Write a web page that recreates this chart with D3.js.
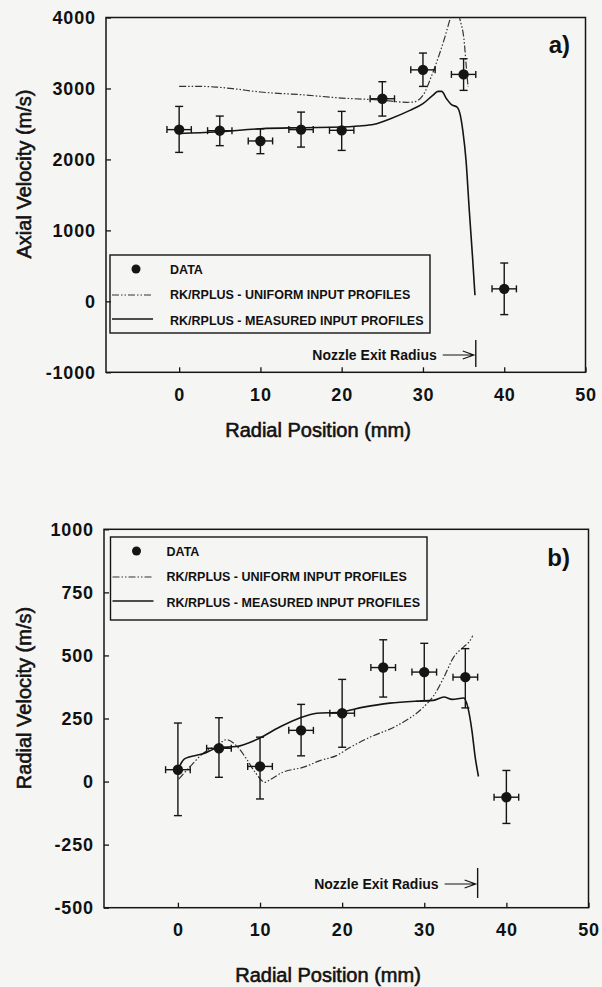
<!DOCTYPE html>
<html>
<head>
<meta charset="utf-8">
<script src="https://cdn.jsdelivr.net/npm/d3@7"></script>
<style>
body { margin: 0; background: #f5f5f4; }
text { font-family: "Liberation Sans", Arial, sans-serif; fill: #111; }
</style>
</head>
<body>
<div id="chart"></div>
<script>
// measured points (mm) and half width of the x error bars
const radialPos = [0, 5, 10, 15, 20, 25, 30, 35, 40];
const posErr = 1.5;

// a) axial velocity, m/s
const axialVel = [2420, 2405, 2260, 2420, 2410, 2855, 3262, 3198, 176];
const axialHi = [2747, 2611, 2430, 2667, 2677, 3095, 3499, 3419, 540];
const axialLo = [2099, 2194, 2081, 2174, 2127, 2611, 3029, 2973, -187];

const uniformAxialX = [0, 2, 4.5, 6.6, 10, 15, 20, 25, 28, 28.8, 30, 31, 31.9, 32.7, 33.4, 33.9, 34.2, 34.5, 35.1, 35.3, 35.55];
const uniformAxialV = [3030, 3030, 3020, 2997, 2950, 2912, 2865, 2835, 2805, 2808, 2902, 3160, 3442, 3724, 4000, 4150, 4160, 4000, 3631, 3349, 3020];

const measuredAxialX = [0, 4.5, 10, 15, 20, 22, 24, 26, 28.4, 30, 31.2, 31.85, 32.3, 32.9, 33.5, 34.2, 34.6, 34.9, 35.3, 35.7, 36.1, 36.4];
const measuredAxialV = [2365, 2386, 2433, 2447, 2456, 2470, 2495, 2574, 2691, 2785, 2902, 2959, 2959, 2856, 2771, 2738, 2621, 2409, 1987, 1282, 624, 85];

// b) radial velocity, m/s
const radialVel = [47, 132, 60, 203, 271, 452, 434, 414, -62];
const radialHi = [232, 253, 176, 306, 405, 562, 548, 527, 44];
const radialLo = [-135, 17, -69, 102, 136, 335, 320, 292, -166];

const uniformRadialX = [0.1, 1.5, 3, 4.9, 5.9, 7.1, 8.35, 9.4, 10.6, 11.2, 12.8, 15.3, 17.3, 19.3, 21, 23.4, 26.7, 29.9, 31.1, 32.4, 33.6, 34.8, 35.6, 35.9];
const uniformRadialV = [10, 60, 110, 147, 166, 143, 90, 37, -3, 7, 37, 57, 83, 103, 136, 176, 222, 295, 338, 414, 494, 534, 560, 578];

const measuredRadialX = [0, 0.8, 3.05, 4.9, 7.1, 9.8, 12.4, 14.9, 16.9, 19.7, 22.6, 25.8, 29.1, 31.1, 32.4, 33.4, 34.8, 35.3, 35.8, 36.2, 36.6];
const measuredRadialV = [47, 90, 110, 134, 139, 170, 216, 253, 271, 275, 295, 311, 319, 322, 335, 326, 331, 295, 203, 97, 20];

const xTicks = [0, 10, 20, 30, 40, 50];
const axialTicks = [-1000, 0, 1000, 2000, 3000, 4000];
const radialTicks = [-500, -250, 0, 250, 500, 750, 1000];
const nozzleRadius = 36.5;

const legendLabels = ["DATA", "RK/RPLUS - UNIFORM INPUT PROFILES", "RK/RPLUS - MEASURED INPUT PROFILES"];

const ink = "#151515";
const dashStyle = "7,2,1.5,2,1.5,2";

const svg = d3.select("#chart").append("svg")
    .attr("width", 602)
    .attr("height", 987);

svg.append("rect").attr("width", 602).attr("height", 987).attr("fill", "#f5f5f4");

function drawPanel(p) {
    const x = d3.scaleLinear().domain([-9, 50]).range([p.left, p.right]);
    const y = d3.scaleLinear().domain(p.yDomain).range([p.bottom, p.top]);
    const g = svg.append("g");

    g.append("clipPath").attr("id", p.id + "-clip")
        .append("rect")
        .attr("x", p.left).attr("y", p.top)
        .attr("width", p.right - p.left).attr("height", p.bottom - p.top);

    // axes, ticks pointing inward
    const xAxis = g.append("g")
        .attr("transform", `translate(0,${p.bottom})`)
        .call(d3.axisBottom(x).tickValues(xTicks).tickSize(-5).tickPadding(16).tickFormat(d => String(d)));
    const yAxis = g.append("g")
        .attr("transform", `translate(${p.left},0)`)
        .call(d3.axisLeft(y).tickValues(p.yTicks).tickSize(-5).tickPadding(11).tickFormat(d => String(d)));
    [xAxis, yAxis].forEach(a => {
        a.select(".domain").remove();
        a.selectAll("line").attr("stroke", ink).attr("stroke-width", 1.3);
        a.selectAll("text")
            .attr("fill", ink)
            .style("font-size", "18px")
            .style("font-weight", "bold")
            .style("letter-spacing", "0.8px");
    });
    // letter spacing adds a trailing gap; pull the y labels back onto the axis
    yAxis.selectAll("text").attr("dx", "0.8");

    g.append("rect")
        .attr("x", p.left).attr("y", p.top)
        .attr("width", p.right - p.left).attr("height", p.bottom - p.top)
        .attr("fill", "none").attr("stroke", ink).attr("stroke-width", 1.5);

    // model curves
    const line = d3.line()
        .x(d => x(d[0]))
        .y(d => y(d[1]))
        .curve(d3.curveMonotoneX);

    g.append("path")
        .datum(d3.zip(p.uniformX, p.uniformV))
        .attr("clip-path", `url(#${p.id}-clip)`)
        .attr("d", line)
        .attr("fill", "none")
        .attr("stroke", "#333")
        .attr("stroke-width", 1.2)
        .attr("stroke-dasharray", dashStyle);

    g.append("path")
        .datum(d3.zip(p.measuredX, p.measuredV))
        .attr("clip-path", `url(#${p.id}-clip)`)
        .attr("d", line)
        .attr("fill", "none")
        .attr("stroke", ink)
        .attr("stroke-width", 1.6);

    // data with error bars
    const pts = radialPos.map((r, i) => ({ r: r, v: p.vals[i], hi: p.hi[i], lo: p.lo[i] }));
    const bars = g.append("g").attr("stroke", ink).attr("stroke-width", 1.4);
    pts.forEach(d => {
        const cx = x(d.r), cy = y(d.v);
        const x0 = x(d.r - posErr), x1 = x(d.r + posErr);
        bars.append("line").attr("x1", cx).attr("x2", cx).attr("y1", y(d.hi)).attr("y2", y(d.lo));
        bars.append("line").attr("x1", cx - 4).attr("x2", cx + 4).attr("y1", y(d.hi)).attr("y2", y(d.hi));
        bars.append("line").attr("x1", cx - 4).attr("x2", cx + 4).attr("y1", y(d.lo)).attr("y2", y(d.lo));
        bars.append("line").attr("x1", x0).attr("x2", x1).attr("y1", cy).attr("y2", cy);
        bars.append("line").attr("x1", x0).attr("x2", x0).attr("y1", cy - 3.5).attr("y2", cy + 3.5);
        bars.append("line").attr("x1", x1).attr("x2", x1).attr("y1", cy - 3.5).attr("y2", cy + 3.5);
    });
    g.append("g").selectAll("circle")
        .data(pts)
        .enter().append("circle")
        .attr("cx", d => x(d.r))
        .attr("cy", d => y(d.v))
        .attr("r", 5.2)
        .attr("fill", ink);

    // legend
    const lg = g.append("g").attr("transform", `translate(${p.legend[0]},${p.legend[1]})`);
    lg.append("rect")
        .attr("width", p.legend[2]).attr("height", p.legend[3])
        .attr("fill", "none").attr("stroke", ink).attr("stroke-width", 1.4);
    lg.append("circle").attr("cx", 26).attr("cy", 14).attr("r", 4.5).attr("fill", ink);
    lg.append("line").attr("x1", 2).attr("x2", 43).attr("y1", 40).attr("y2", 40)
        .attr("stroke", "#333").attr("stroke-width", 1.2).attr("stroke-dasharray", dashStyle);
    lg.append("line").attr("x1", 2).attr("x2", 43).attr("y1", 64).attr("y2", 64)
        .attr("stroke", ink).attr("stroke-width", 1.6);
    lg.selectAll("text.lab")
        .data(legendLabels)
        .enter().append("text")
        .attr("class", "lab")
        .attr("x", p.legendTextX)
        .attr("y", (d, i) => 14 + i * 25.5 + 4.5)
        .style("font-size", "12.5px")
        .style("font-weight", "bold")
        .text(d => d);

    // nozzle exit marker
    const nx = x(nozzleRadius);
    const ny = p.nozzle[0];
    g.append("line").attr("x1", nx).attr("x2", nx).attr("y1", p.nozzle[1]).attr("y2", p.nozzle[2])
        .attr("stroke", ink).attr("stroke-width", 1.4);
    g.append("path")
        .attr("d", `M${nx - 33},${ny}H${nx - 2}M${nx - 13},${ny - 4}L${nx - 2},${ny}L${nx - 13},${ny + 4}`)
        .attr("fill", "none").attr("stroke", ink).attr("stroke-width", 1.2);
    g.append("text")
        .attr("x", nx - 39).attr("y", ny + 5)
        .attr("text-anchor", "end")
        .style("font-size", "14px")
        .style("font-weight", "bold")
        .text("Nozzle Exit Radius");

    // panel tag and titles
    g.append("text")
        .attr("x", 570).attr("y", p.tagY)
        .attr("text-anchor", "end")
        .style("font-size", "24px")
        .style("font-weight", "bold")
        .text(p.tag);

    g.append("text")
        .attr("x", p.xTitle[0]).attr("y", p.xTitle[1])
        .attr("text-anchor", "middle")
        .attr("stroke", ink).attr("stroke-width", 0.6)
        .style("font-size", "20px")
        .text("Radial Position (mm)");

    g.append("text")
        .attr("transform", `translate(31,${p.yTitleY}) rotate(-90)`)
        .attr("text-anchor", "middle")
        .attr("stroke", ink).attr("stroke-width", 0.6)
        .style("font-size", "20px")
        .text(p.yTitle);
}

drawPanel({
    id: "axial", tag: "a)", tagY: 53,
    left: 106, right: 585.5, top: 17.5, bottom: 372.3,
    yDomain: [-1000, 4000], yTicks: axialTicks,
    vals: axialVel, hi: axialHi, lo: axialLo,
    uniformX: uniformAxialX, uniformV: uniformAxialV,
    measuredX: measuredAxialX, measuredV: measuredAxialV,
    legend: [110, 255, 320, 78], legendTextX: 60,
    nozzle: [355, 340, 367],
    xTitle: [318, 437], yTitle: "Axial Velocity (m/s)", yTitleY: 174
});

drawPanel({
    id: "radial", tag: "b)", tagY: 566,
    left: 104, right: 588.5, top: 529.3, bottom: 907.7,
    yDomain: [-500, 1000], yTicks: radialTicks,
    vals: radialVel, hi: radialHi, lo: radialLo,
    uniformX: uniformRadialX, uniformV: uniformRadialV,
    measuredX: measuredRadialX, measuredV: measuredRadialV,
    legend: [110.5, 537, 316.5, 83], legendTextX: 56,
    nozzle: [884, 868, 898],
    xTitle: [328, 982], yTitle: "Radial Velocity (m/s)", yTitleY: 698
});
</script>
</body>
</html>
